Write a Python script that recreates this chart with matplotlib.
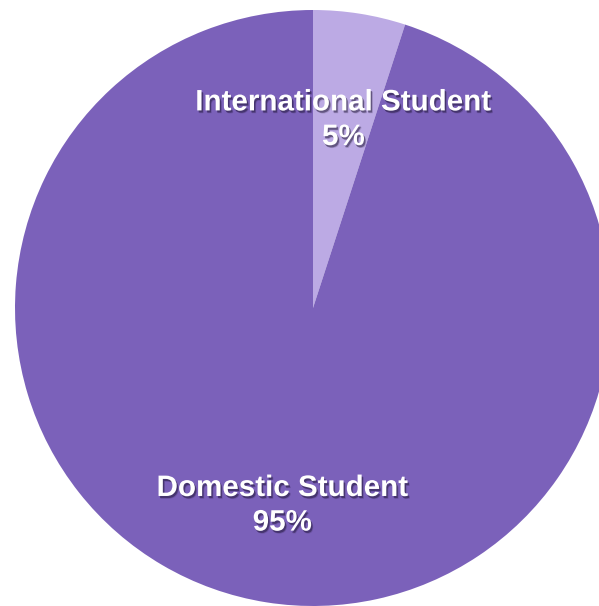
import matplotlib
matplotlib.use("Agg")
import matplotlib.pyplot as plt
import matplotlib.patheffects as pe

# data
categories = ["International Student", "Domestic Student"]
shares = [5, 95]
colors = ["#BCAAE4", "#7B61BA"]

plt.rcParams["font.family"] = ["Liberation Sans", "DejaVu Sans"]

W, H = 599, 606
fig = plt.figure(figsize=(W / 100, H / 100), dpi=100)
fig.patch.set_facecolor("white")

# pie centre ~ (313, 308) px from top-left, radius ~298 px
cx, cy, r = 313, 308, 298
ax = fig.add_axes([(cx - r) / W, (H - cy - r) / H, 2 * r / W, 2 * r / H])

names = iter(categories)
wedges, texts, autotexts = ax.pie(
    shares, colors=colors, startangle=90, counterclock=False,
    autopct=lambda p: f"{next(names)}\n{p:.0f}%", pctdistance=0.655,
    wedgeprops=dict(linewidth=0),
)
ax.set_xlim(-1, 1)
ax.set_ylim(-1, 1)

shadow = [
    pe.SimplePatchShadow(offset=(1.5, -2.0), shadow_rgbFace="#1a1030", alpha=0.18),
    pe.SimplePatchShadow(offset=(1.0, -1.5), shadow_rgbFace="#1a1030", alpha=0.45),
    pe.Normal(),
]
for t in autotexts:
    t.set_color("white")
    t.set_fontsize(21.3)
    t.set_fontweight("bold")
    t.set_linespacing(1.3)
    t.set_path_effects(shadow)
    # labels sit a few pixels lower than the plain wedge midpoint
    x, y = t.get_position()
    t.set_position((x, y - 4.5 / r))

fig.savefig("out.png", dpi=100, facecolor="white")
